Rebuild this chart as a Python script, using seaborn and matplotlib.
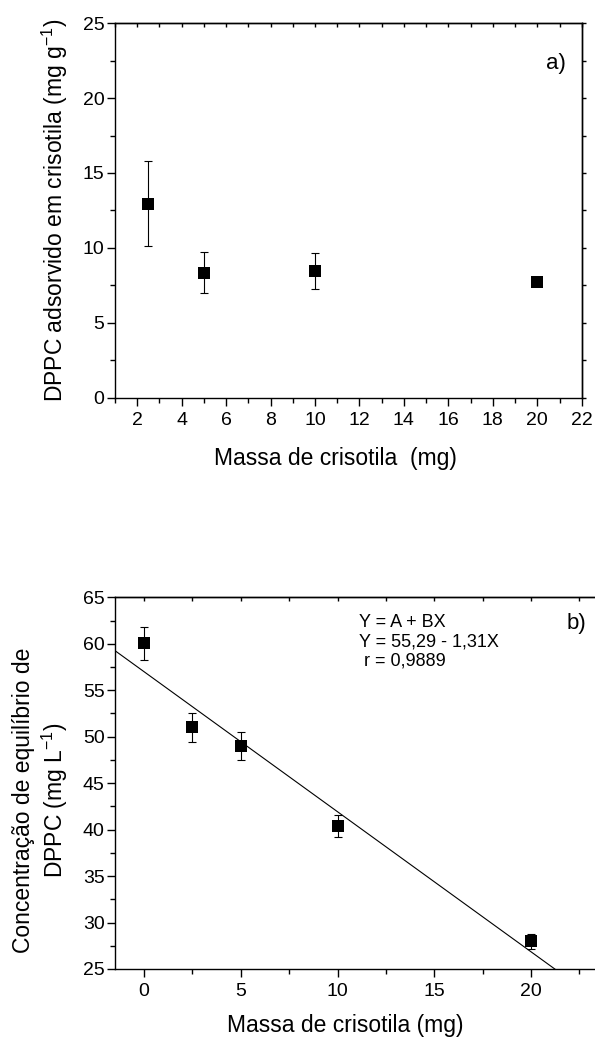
import numpy as np
import matplotlib
matplotlib.use("Agg")
import matplotlib.pyplot as plt
import seaborn as sns
from matplotlib.ticker import MultipleLocator, NullFormatter

sns.set_style("ticks")
plt.rcParams['font.family'] = ['Liberation Sans', 'DejaVu Sans']
plt.rcParams['mathtext.fontset'] = 'custom'
plt.rcParams['mathtext.rm'] = 'Liberation Sans'
plt.rcParams['mathtext.it'] = 'Liberation Sans:italic'
plt.rcParams['mathtext.bf'] = 'Liberation Sans:bold'
plt.rcParams['text.color'] = 'black'
plt.rcParams['axes.labelcolor'] = 'black'
plt.rcParams['xtick.color'] = 'black'
plt.rcParams['ytick.color'] = 'black'

# a) DPPC adsorvido vs massa de crisotila
massa_a = [2.5, 5, 10, 20]
adsorvido = [12.95, 8.35, 8.45, 7.75]
erro_a = [2.85, 1.35, 1.2, 0.25]

# b) concentracao de equilibrio vs massa de crisotila
massa_b = [0, 2.5, 5, 10, 20]
conc_eq = [60.05, 51.0, 49.0, 40.4, 28.0]
erro_b = [1.8, 1.55, 1.5, 1.2, 0.8]

eq_lines = ["Y = A + BX", "Y = 55,29 - 1,31X", " r = 0,9889"]

fig = plt.figure(figsize=(5.95, 10.41), dpi=100)
ax1 = fig.add_axes([0.1933, 0.618, 0.7844, 0.3597])
ax2 = fig.add_axes([0.1933, 0.0692, 0.8293, 0.357])


def estilo(ax, xmaj, xmin, ymaj, ymin, xtop, yright):
    for s in ax.spines.values():
        s.set_linewidth(1.0)
        s.set_color('black')
    ax.xaxis.set_major_locator(MultipleLocator(xmaj))
    ax.xaxis.set_minor_locator(MultipleLocator(xmin))
    ax.yaxis.set_major_locator(MultipleLocator(ymaj))
    ax.yaxis.set_minor_locator(MultipleLocator(ymin))
    ax.tick_params(which='major', direction='out', length=6, width=1,
                   labelsize=14, colors='black')
    ax.tick_params(which='minor', direction='out', length=3.5, width=1, colors='black')
    ax.tick_params(axis='y', pad=1.5)
    ax.tick_params(axis='x', pad=4)
    # ticks espelhados (topo e direita)
    top = ax.secondary_xaxis('top')
    top.xaxis.set_major_locator(MultipleLocator(xtop))
    top.xaxis.set_major_formatter(NullFormatter())
    top.tick_params(direction='in', length=3, width=1, colors='black')
    top.spines['top'].set_linewidth(1.0)
    top.spines['top'].set_color('black')
    right = ax.secondary_yaxis('right')
    right.yaxis.set_major_locator(MultipleLocator(yright))
    right.yaxis.set_major_formatter(NullFormatter())
    right.tick_params(direction='out', length=3, width=1, colors='black')
    right.spines['right'].set_linewidth(1.0)
    right.spines['right'].set_color('black')


# a)
ax1.set_xlim(1, 22)
ax1.set_ylim(0, 25)
ax1.errorbar(massa_a, adsorvido, yerr=erro_a, fmt='none', ecolor='black',
             elinewidth=0.8, capsize=3.2, capthick=0.8, zorder=2)
sns.scatterplot(x=massa_a, y=adsorvido, marker='s', s=64, color='black',
                edgecolor='black', linewidth=0, ax=ax1, zorder=3)
estilo(ax1, 2, 1, 5, 2.5, 1, 2.5)
ax1.set_xlabel("Massa de crisotila  (mg)", fontsize=16.5)
ax1.set_ylabel("DPPC adsorvido em crisotila (mg g$^{-1}$)", fontsize=16.5)
ax1.xaxis.set_label_coords(0.4725, -0.132)
ax1.yaxis.set_label_coords(-0.096, 0.5)
ax1.text(0.9664, 0.877, "a)", transform=ax1.transAxes, ha='right',
         va='baseline', fontsize=16)

# b)
ax2.set_xlim(-1.5, 24)
ax2.set_ylim(25, 65)
sns.regplot(x=massa_b, y=conc_eq, ax=ax2, scatter=False, ci=None,
            truncate=False, line_kws=dict(color='black', lw=0.8))
ax2.set_xlim(-1.5, 24)
ax2.set_ylim(25, 65)
ax2.errorbar(massa_b, conc_eq, yerr=erro_b, fmt='none', ecolor='black',
             elinewidth=0.8, capsize=3.2, capthick=0.8, zorder=2)
sns.scatterplot(x=massa_b, y=conc_eq, marker='s', s=64, color='black',
                edgecolor='black', linewidth=0, ax=ax2, zorder=3)
estilo(ax2, 5, 2.5, 5, 2.5, 2.5, 2.5)
ax2.set_xlabel("Massa de crisotila (mg)", fontsize=16.5)
ax2.set_ylabel("Concentração de equilíbrio de\nDPPC (mg L$^{-1}$)", fontsize=16.5)
ax2.xaxis.set_label_coords(0.467, -0.121)
ax2.yaxis.set_label_coords(-0.091, 0.455)
ax2.text(22.88, 61.56, "b)", ha='right', va='baseline', fontsize=16)
for txt, yy in zip(eq_lines, [61.77, 59.68, 57.64]):
    ax2.text(11.13, yy, txt, ha='left', va='baseline', fontsize=13)

fig.savefig("out.png", dpi=100)
